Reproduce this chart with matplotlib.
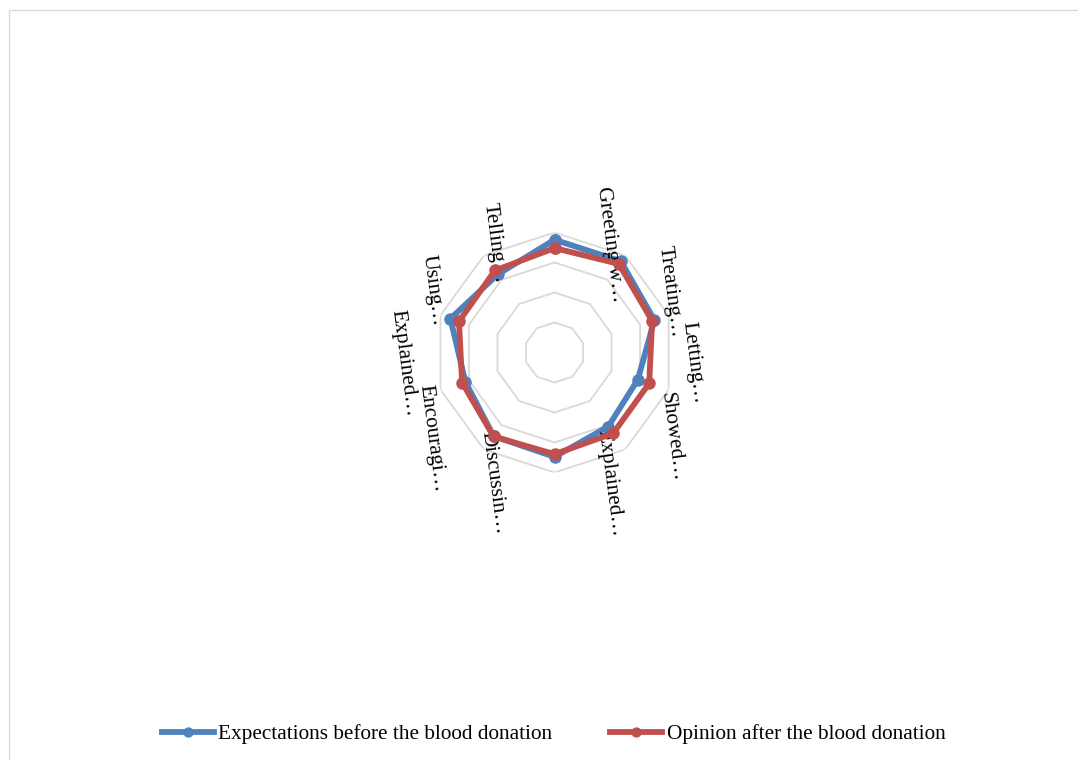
import numpy as np
import matplotlib
matplotlib.use('Agg')
import matplotlib.pyplot as plt
from matplotlib.patches import Rectangle

plt.rcParams['font.family'] = ['Liberation Serif', 'DejaVu Serif']

# 评分项目（顺时针，从正上方开始）
categories = ['Greeting w…', 'Treating…', 'Letting…', 'Showed…', 'Explained…',
              'Discussin…', 'Encouragi…', 'Explained…', 'Using…', 'Telling…']
before_values = [4.76, 4.76, 4.50, 3.92, 4.05, 4.48, 4.45, 4.13, 4.65, 4.22]
after_values = [4.48, 4.65, 4.42, 4.32, 4.33, 4.39, 4.46, 4.24, 4.35, 4.38]
ring_levels = [2, 3, 4, 5]
r_min, r_max = 1, 5

# 标签位置（角度°顺时针，半径）
label_theta = [27.1, 62.2, 94.4, 125.9, 157.0, 204.8, 235.0, 265.9, 297.1, 331.0]
label_r = [5.06, 5.35, 5.64, 5.82, 5.74, 5.80, 5.99, 6.03, 5.58, 5.16]

blue = '#4f81bd'
red = '#c0504d'
grid_color = '#d9d9d9'

fig = plt.figure(figsize=(10.78, 7.6), dpi=100)
fig.patches.append(Rectangle((8.5 / 1078, -0.1), 1.2, 1.1 - 10.5 / 760,
                             transform=fig.transFigure, fill=False,
                             edgecolor=grid_color, linewidth=1.0))

ax = fig.add_axes([0.4031, 0.3783, 0.2226, 0.3158], projection='polar')
ax.set_theta_offset(np.pi / 2)
ax.set_theta_direction(-1)
ax.set_ylim(r_min, r_max)
ax.grid(False)
ax.set_xticks([])
ax.set_yticks([])
ax.spines['polar'].set_visible(False)
ax.patch.set_alpha(0)

n = len(categories)
angles = np.linspace(0, 2 * np.pi, n, endpoint=False)
closed = np.append(angles, angles[0])

# 网格多边形
for lv in ring_levels:
    ax.plot(closed, [lv] * (n + 1), color=grid_color, linewidth=1.3, zorder=1)


def close(vals):
    return list(vals) + [vals[0]]


ax.plot(closed, close(before_values), color=blue, linewidth=4.2, marker='o',
        markersize=8, label='Expectations before the blood donation', zorder=3)
ax.plot(closed, close(after_values), color=red, linewidth=4.2, marker='o',
        markersize=8, label='Opinion after the blood donation', zorder=4)

for name, t, r in zip(categories, label_theta, label_r):
    ax.text(np.deg2rad(t), r, name, rotation=-82.5, ha='center', va='center',
            fontsize=15.3, clip_on=False)

fig.legend(loc='center', bbox_to_anchor=(553.5 / 1078, 1 - 734 / 760), ncol=2,
           frameon=False, fontsize=15.3, handlelength=2.45, handletextpad=0.2,
           columnspacing=2.75, numpoints=1, markerscale=0.8)

fig.savefig('out.png', dpi=100)
